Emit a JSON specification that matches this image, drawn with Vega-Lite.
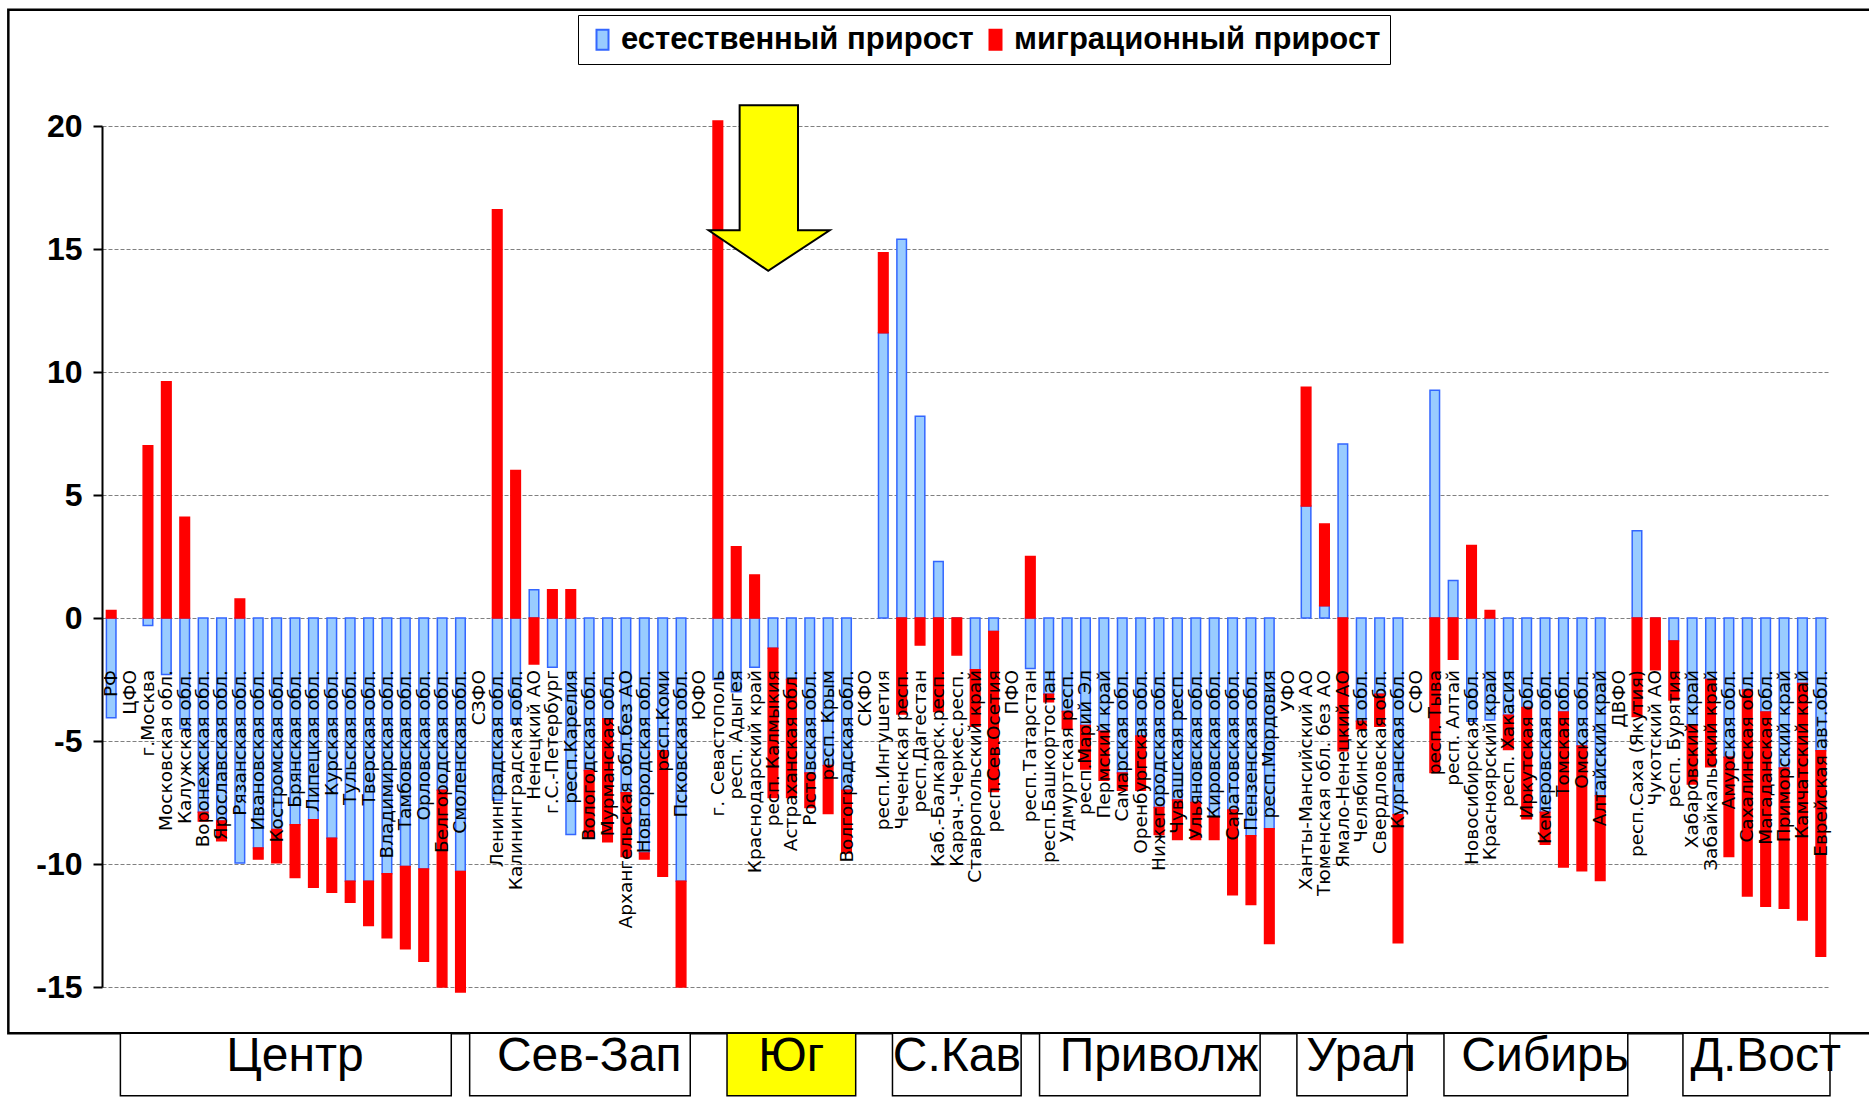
{
  "$schema": "https://vega.github.io/schema/vega-lite/v6.json",
  "width": 1728,
  "height": 861,
  "autosize": {"type": "none"},
  "padding": {"left": 102, "top": 126, "right": 39, "bottom": 110},
  "background": "white",
  "config": {
    "view": {"stroke": null},
    "locale": {"number": {"decimal": ".", "thousands": ",", "grouping": [3], "currency": ["$", ""], "minus": "-"}}
  },
  "datasets": {
    "d": [
      {"r": "РФ", "n": -4.05, "m": 0.3},
      {"r": "ЦФО"},
      {"r": "г.Москва", "n": -0.3, "m": 7.0},
      {"r": "Московская обл.", "n": -2.3, "m": 9.6},
      {"r": "Калужская обл.", "n": -4.5, "m": 4.1},
      {"r": "Воронежская обл.", "n": -7.9, "m": -0.35},
      {"r": "Ярославская обл.", "n": -8.25, "m": -0.8},
      {"r": "Рязанская обл.", "n": -9.96, "m": 0.77},
      {"r": "Ивановская обл.", "n": -9.35, "m": -0.45},
      {"r": "Костромская обл.", "n": -8.6, "m": -1.35},
      {"r": "Брянская обл.", "n": -8.4, "m": -2.15},
      {"r": "Липецкая обл.", "n": -8.2, "m": -2.75},
      {"r": "Курская обл.", "n": -8.95, "m": -2.2},
      {"r": "Тульская обл.", "n": -10.7, "m": -0.85},
      {"r": "Тверская обл.", "n": -10.7, "m": -1.8},
      {"r": "Владимирская обл.", "n": -10.4, "m": -2.6},
      {"r": "Тамбовская обл.", "n": -10.1, "m": -3.35},
      {"r": "Орловская обл.", "n": -10.2, "m": -3.75},
      {"r": "Белгородская обл.", "n": -7.0, "m": -8.0},
      {"r": "Смоленская обл.", "n": -10.3, "m": -4.9},
      {"r": "СЗФО"},
      {"r": "Ленинградская обл.", "n": -7.4, "m": 16.6},
      {"r": "Калининградская обл.", "n": -4.3, "m": 6.0},
      {"r": "Ненецкий АО", "n": 1.15, "m": -1.87},
      {"r": "г.С.-Петербург", "n": -2.0, "m": 1.15},
      {"r": "респ.Карелия", "n": -8.8, "m": 1.15},
      {"r": "Вологодская обл.", "n": -6.2, "m": -2.7},
      {"r": "Мурманская обл.", "n": -4.1, "m": -5.0},
      {"r": "Архангельская обл.без АО", "n": -7.1, "m": -2.6},
      {"r": "Новгородская обл.", "n": -9.55, "m": -0.25},
      {"r": "респ.Коми", "n": -5.4, "m": -5.1},
      {"r": "Псковская обл.", "n": -10.7, "m": -4.3},
      {"r": "ЮФО"},
      {"r": "г. Севастополь", "n": -2.5, "m": 20.2},
      {"r": "респ. Адыгея", "n": -3.0, "m": 2.9},
      {"r": "Краснодарский край", "n": -2.0, "m": 1.75},
      {"r": "респ. Калмыкия", "n": -1.23, "m": -6.07},
      {"r": "Астраханская обл.", "n": -2.5, "m": -4.8},
      {"r": "Ростовская обл.", "n": -6.3, "m": -1.4},
      {"r": "респ. Крым", "n": -6.0, "m": -1.95},
      {"r": "Волгоградская обл.", "n": -7.0, "m": -2.55},
      {"r": "СКФО"},
      {"r": "респ.Ингушетия", "n": 11.6, "m": 3.25},
      {"r": "Чеченская респ.", "n": 15.4, "m": -3.9},
      {"r": "респ.Дагестан", "n": 8.2, "m": -1.1},
      {"r": "Каб.-Балкарск.респ.", "n": 2.3, "m": -3.8},
      {"r": "Карач.-Черкес.респ.", "n": 0, "m": -1.5},
      {"r": "Ставропольский край", "n": -2.1, "m": -2.3},
      {"r": "респ.Сев.Осетия", "n": -0.55, "m": -6.5},
      {"r": "ПФО"},
      {"r": "респ.Татарстан", "n": -2.05, "m": 2.5},
      {"r": "респ.Башкортостан", "n": -3.1, "m": -0.3},
      {"r": "Удмуртская респ.", "n": -3.8, "m": -0.7},
      {"r": "респ.Марий Эл", "n": -4.37, "m": -1.77},
      {"r": "Пермский край", "n": -4.6, "m": -2.0},
      {"r": "Самарская обл.", "n": -6.3, "m": -0.7},
      {"r": "Оренбургская обл.", "n": -4.8, "m": -2.2},
      {"r": "Нижегородская обл.", "n": -7.7, "m": -1.1},
      {"r": "Чувашская респ.", "n": -7.4, "m": -1.6},
      {"r": "Ульяновская обл.", "n": -7.5, "m": -1.5},
      {"r": "Кировская обл.", "n": -8.1, "m": -0.9},
      {"r": "Саратовская обл.", "n": -7.8, "m": -3.45},
      {"r": "Пензенская обл.", "n": -8.85, "m": -2.8},
      {"r": "респ.Мордовия", "n": -8.57, "m": -4.66},
      {"r": "УФО"},
      {"r": "Ханты-Мансийский АО", "n": 4.55, "m": 4.83},
      {"r": "Тюменская обл. без АО", "n": 0.5, "m": 3.32},
      {"r": "Ямало-Ненецкий АО", "n": 7.07, "m": -5.4},
      {"r": "Челябинская обл.", "n": -4.2, "m": -0.3},
      {"r": "Свердловская обл.", "n": -3.1, "m": -1.3},
      {"r": "Курганская обл.", "n": -8.0, "m": -5.2},
      {"r": "СФО"},
      {"r": "респ. Тыва", "n": 9.26, "m": -6.28},
      {"r": "респ. Алтай", "n": 1.52, "m": -1.68},
      {"r": "Новосибирская обл.", "n": -4.2, "m": 2.95},
      {"r": "Красноярский край", "n": -4.15, "m": 0.3},
      {"r": "респ. Хакасия", "n": -3.95, "m": -1.4},
      {"r": "Иркутская обл.", "n": -3.64, "m": -4.52},
      {"r": "Кемеровская обл.", "n": -7.9, "m": -1.3},
      {"r": "Томская обл.", "n": -3.82, "m": -6.3},
      {"r": "Омская обл.", "n": -5.2, "m": -5.07},
      {"r": "Алтайский край", "n": -7.23, "m": -3.44},
      {"r": "ДВФО"},
      {"r": "респ.Саха (Якутия)", "n": 3.55, "m": -4.0},
      {"r": "Чукотский АО", "n": 0, "m": -2.1},
      {"r": "респ. Бурятия", "n": -0.93, "m": -2.4},
      {"r": "Хабаровский край", "n": -4.35, "m": -2.4},
      {"r": "Забайкальский край", "n": -2.5, "m": -3.55},
      {"r": "Амурская обл.", "n": -5.66, "m": -4.04},
      {"r": "Сахалинская обл.", "n": -2.93, "m": -8.37},
      {"r": "Магаданская обл.", "n": -3.82, "m": -7.9},
      {"r": "Приморский край", "n": -6.1, "m": -5.7},
      {"r": "Камчатский край", "n": -2.66, "m": -9.62},
      {"r": "Еврейская авт.обл.", "n": -5.4, "m": -8.35}
    ],
    "g": [
      {"g": "Центр", "a": "ЦФО", "b": "Белгородская обл.", "c": "Брянская обл."},
      {"g": "Сев-Зап", "a": "СЗФО", "b": "Псковская обл.", "c": "Вологодская обл."},
      {"g": "Юг", "a": "респ. Адыгея", "b": "Волгоградская обл.", "c": "Астраханская обл."},
      {"g": "С.Кав", "a": "Чеченская респ.", "b": "ПФО", "c": "Карач.-Черкес.респ."},
      {"g": "Приволж", "a": "респ.Башкортостан", "b": "Пензенская обл.", "c": "Нижегородская обл."},
      {"g": "Урал", "a": "Ханты-Мансийский АО", "b": "Курганская обл.", "c": "Челябинская обл."},
      {"g": "Сибирь", "a": "респ. Алтай", "b": "ДВФО", "c": "Кемеровская обл."},
      {"g": "Д.Вост", "a": "Хабаровский край", "b": "Еврейская авт.обл.", "c": "Магаданская обл."}
    ]
  },
  "layer": [
    {
      "data": {"name": "d"},
      "transform": [{"fold": ["n", "m"], "as": ["k", "v"]}],
      "mark": {"type": "bar", "strokeWidth": 1.5},
      "encoding": {
        "x": {
          "field": "r", "type": "nominal", "sort": null, "axis": null,
          "scale": {
            "paddingInner": 0.48, "paddingOuter": 0.24,
            "domain": ["РФ","ЦФО","г.Москва","Московская обл.","Калужская обл.","Воронежская обл.","Ярославская обл.","Рязанская обл.","Ивановская обл.","Костромская обл.","Брянская обл.","Липецкая обл.","Курская обл.","Тульская обл.","Тверская обл.","Владимирская обл.","Тамбовская обл.","Орловская обл.","Белгородская обл.","Смоленская обл.","СЗФО","Ленинградская обл.","Калининградская обл.","Ненецкий АО","г.С.-Петербург","респ.Карелия","Вологодская обл.","Мурманская обл.","Архангельская обл.без АО","Новгородская обл.","респ.Коми","Псковская обл.","ЮФО","г. Севастополь","респ. Адыгея","Краснодарский край","респ. Калмыкия","Астраханская обл.","Ростовская обл.","респ. Крым","Волгоградская обл.","СКФО","респ.Ингушетия","Чеченская респ.","респ.Дагестан","Каб.-Балкарск.респ.","Карач.-Черкес.респ.","Ставропольский край","респ.Сев.Осетия","ПФО","респ.Татарстан","респ.Башкортостан","Удмуртская респ.","респ.Марий Эл","Пермский край","Самарская обл.","Оренбургская обл.","Нижегородская обл.","Чувашская респ.","Ульяновская обл.","Кировская обл.","Саратовская обл.","Пензенская обл.","респ.Мордовия","УФО","Ханты-Мансийский АО","Тюменская обл. без АО","Ямало-Ненецкий АО","Челябинская обл.","Свердловская обл.","Курганская обл.","СФО","респ. Тыва","респ. Алтай","Новосибирская обл.","Красноярский край","респ. Хакасия","Иркутская обл.","Кемеровская обл.","Томская обл.","Омская обл.","Алтайский край","ДВФО","респ.Саха (Якутия)","Чукотский АО","респ. Бурятия","Хабаровский край","Забайкальский край","Амурская обл.","Сахалинская обл.","Магаданская обл.","Приморский край","Камчатский край","Еврейская авт.обл."]
          }
        },
        "y": {
          "field": "v", "type": "quantitative", "stack": "zero",
          "scale": {"domain": [-15, 20], "nice": false, "zero": false},
          "axis": {
            "values": [-15, -10, -5, 0, 5, 10, 15, 20], "title": null,
            "grid": true, "gridColor": "#808080", "gridDash": [4, 2], "gridWidth": 1,
            "domainColor": "black", "domainWidth": 2,
            "tickColor": "black", "tickWidth": 2, "tickSize": 9,
            "labelFont": "Liberation Sans", "labelFontSize": 32, "labelFontWeight": "bold",
            "labelColor": "black", "labelPadding": 11
          }
        },
        "color": {
          "field": "k", "type": "nominal",
          "scale": {"domain": ["n", "m"], "range": ["#99CCFF", "#FF0000"]},
          "legend": {
            "orient": "none", "legendX": 476, "legendY": -111, "direction": "horizontal", "title": null,
            "strokeColor": "black", "fillColor": "white", "padding": 9,
            "labelFont": "Liberation Sans", "labelFontSize": 31, "labelFontWeight": "bold", "labelColor": "black",
            "symbolType": "M -0.6 -1 L 0.6 -1 L 0.6 1 L -0.6 1 Z", "symbolSize": 400, "symbolStrokeWidth": 2,
            "labelExpr": "datum.label == 'n' ? 'естественный прирост' : 'миграционный прирост'",
            "columnPadding": 6, "labelOffset": 3, "labelLimit": 600
          }
        },
        "stroke": {
          "field": "k", "type": "nominal",
          "scale": {"domain": ["n", "m"], "range": ["#3366FF", "#FF0000"]},
          "legend": {
            "orient": "none", "legendX": 476, "legendY": -111, "direction": "horizontal", "title": null,
            "strokeColor": "black", "fillColor": "white", "padding": 9,
            "labelFont": "Liberation Sans", "labelFontSize": 31, "labelFontWeight": "bold", "labelColor": "black",
            "symbolType": "M -0.6 -1 L 0.6 -1 L 0.6 1 L -0.6 1 Z", "symbolSize": 400, "symbolStrokeWidth": 2,
            "labelExpr": "datum.label == 'n' ? 'естественный прирост' : 'миграционный прирост'",
            "columnPadding": 6, "labelOffset": 3, "labelLimit": 600
          }
        },
        "order": {"field": "k", "sort": "descending"}
      }
    },
    {
      "mark": {"type": "rule", "color": "black", "strokeWidth": 2},
      "encoding": {"y": {"datum": 0}}
    },
    {
      "data": {"name": "d"},
      "mark": {"type": "text", "angle": 270, "align": "right", "baseline": "middle", "dx": -52, "font": "DejaVu Sans", "fontSize": 18.5, "color": "black"},
      "encoding": {
        "x": {"field": "r", "type": "nominal", "sort": null},
        "y": {"datum": 0},
        "text": {"field": "r"}
      }
    },
    {
      "data": {"name": "d"},
      "transform": [{"filter": "datum.r === 'респ. Калмыкия'"}],
      "mark": {"type": "point", "shape": "M -0.345 -1 L 0.36 -1 L 0.36 0.51 L 0.743 0.51 L 0 1 L -0.72 0.51 L -0.345 0.51 Z", "size": 27423, "filled": true, "fill": "#FFFF00", "stroke": "black", "strokeWidth": 2, "opacity": 1},
      "encoding": {
        "x": {"field": "r", "type": "nominal", "sort": null, "bandPosition": 0},
        "y": {"datum": 17.48}
      }
    },
    {
      "data": {"name": "d"},
      "transform": [{"filter": "datum.r === 'РФ'"}],
      "mark": {"type": "rect", "filled": false, "stroke": "black", "strokeWidth": 2.5},
      "encoding": {
        "x": {"field": "r", "type": "nominal", "sort": null, "bandPosition": -10.26},
        "x2": {"field": "r", "bandPosition": 185},
        "y": {"datum": 24.73},
        "y2": {"datum": -16.88}
      }
    },
    {
      "data": {"name": "g"},
      "mark": {"type": "rect", "stroke": "black", "strokeWidth": 1.5},
      "encoding": {
        "x": {"field": "a", "type": "nominal", "sort": null, "bandPosition": -0.461},
        "x2": {"field": "b", "bandPosition": 1.461},
        "y": {"datum": -16.88},
        "y2": {"datum": -19.42},
        "fill": {"condition": {"test": "datum.g === 'Юг'", "value": "#FFFF00"}, "value": "white"}
      }
    },
    {
      "data": {"name": "g"},
      "mark": {"type": "text", "font": "Liberation Sans", "fontSize": 48, "color": "black", "baseline": "middle", "align": "center"},
      "encoding": {
        "x": {"field": "c", "type": "nominal", "sort": null},
        "y": {"datum": -17.85},
        "text": {"field": "g"}
      }
    }
  ]
}
